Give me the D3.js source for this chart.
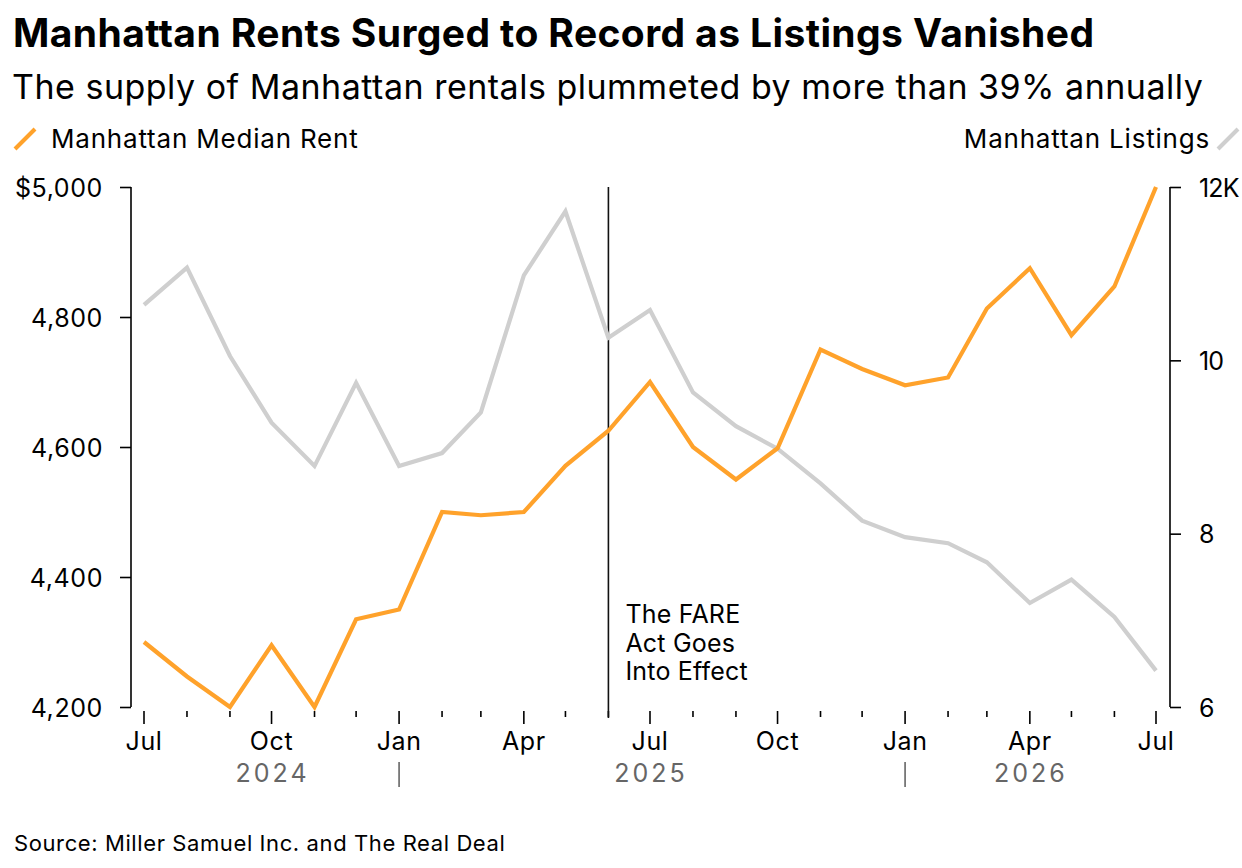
<!DOCTYPE html>
<html>
<head>
<meta charset="utf-8">
<script src="https://cdn.jsdelivr.net/npm/d3@7"></script>
<style>
  html, body { margin: 0; padding: 0; background: #fff; }
  svg text { font-family: Inter, "Liberation Sans", Arial, sans-serif; fill: #000; }
</style>
</head>
<body>
<svg id="chart" width="1242" height="868"></svg>
<script>
// monthly points, Jul 2024 .. Jul 2026
var months = ['2024-07','2024-08','2024-09','2024-10','2024-11','2024-12',
  '2025-01','2025-02','2025-03','2025-04','2025-05','2025-06',
  '2025-07','2025-08','2025-09','2025-10','2025-11','2025-12',
  '2026-01','2026-02','2026-03','2026-04','2026-05','2026-06','2026-07'];
var medianRent = [4300, 4247, 4200, 4295, 4200, 4335, 4350, 4500, 4495, 4500, 4571, 4625,
  4700, 4600, 4550, 4598, 4750, 4720, 4695, 4707, 4813, 4875, 4772, 4847, 5000];
var listings = [10640, 11070, 10050, 9280, 8780, 9740, 8780, 8930, 9400, 10980, 11720, 10260,
  10580, 9630, 9240, 8980, 8580, 8150, 7960, 7890, 7670, 7200, 7470, 7040, 6420];
var rentTicks = [4200, 4400, 4600, 4800, 5000];
var listingTicks = [6000, 8000, 10000, 12000];
var yearLabels = [['2024', '2024-10'], ['2025', '2025-07'], ['2026', '2026-04']];
var yearBreaks = ['2025-01', '2026-01'];
var eventMonth = '2025-06';
var eventLines = ['The FARE', 'Act Goes', 'Into Effect'];

(function (d3) {
  var parse = d3.timeParse('%Y-%m');
  var svg = d3.select('#chart');
  var orange = '#ffa22b', grey = '#cfcfcf';

  var x = d3.scaleTime()
    .domain([parse('2024-07'), parse('2026-07')])
    .range([144, 1156]);
  var yLeft = d3.scaleLinear().domain([4200, 5000]).range([707, 187]);
  var yRight = d3.scaleLinear().domain([6000, 12000]).range([707, 187]);

  // titles
  svg.append('text').attr('x', 13).attr('y', 47)
    .style('font-size', '39px').style('font-weight', 'bold')
    .style('letter-spacing', '0.4px')
    .text('Manhattan Rents Surged to Record as Listings Vanished');
  svg.append('text').attr('x', 12).attr('y', 99)
    .style('font-size', '34px').style('letter-spacing', '0.5px')
    .text('The supply of Manhattan rentals plummeted by more than 39% annually');

  // legend
  svg.append('line').attr('x1', 15).attr('y1', 149).attr('x2', 35).attr('y2', 129)
    .attr('stroke', orange).attr('stroke-width', 4);
  svg.append('text').attr('x', 51).attr('y', 148).style('font-size', '26px')
    .style('letter-spacing', '0.8px').text('Manhattan Median Rent');
  svg.append('text').attr('x', 1210).attr('y', 148).style('font-size', '26px')
    .style('letter-spacing', '0.8px')
    .attr('text-anchor', 'end').text('Manhattan Listings');
  svg.append('line').attr('x1', 1218).attr('y1', 149).attr('x2', 1238).attr('y2', 129)
    .attr('stroke', grey).attr('stroke-width', 4);

  // left axis
  var leftAxis = svg.append('g').attr('transform', 'translate(131,0)')
    .call(d3.axisLeft(yLeft).tickValues(rentTicks).tickSize(11).tickPadding(17)
      .tickFormat(function(d) { return d === 5000 ? '$5,000' : d3.format(',')(d); }));
  leftAxis.select('.domain').attr('d', 'M0,187V707');

  // right axis
  var rightAxis = svg.append('g').attr('transform', 'translate(1170,0)')
    .call(d3.axisRight(yRight).tickValues(listingTicks).tickSize(11).tickPadding(18)
      .tickFormat(function(d) { return d === 12000 ? '12K' : d / 1000; }));
  rightAxis.select('.domain').attr('d', 'M0,187V707');

  [leftAxis, rightAxis].forEach(function(a) {
    a.selectAll('path, line').attr('stroke', '#000').attr('stroke-width', 1.6);
    a.selectAll('text').style('font-size', '25px').attr('fill', '#000')
      .attr('font-family', null).attr('dy', '0.36em');
  });
  leftAxis.selectAll('text').style('letter-spacing', '0.6px');
  rightAxis.selectAll('text').style('letter-spacing', '-0.8px');

  // x axis: month ticks, quarter ticks longer
  var monthDates = months.map(parse);
  svg.append('g').selectAll('line').data(monthDates).enter().append('line')
    .attr('x1', function(d) { return x(d); }).attr('x2', function(d) { return x(d); })
    .attr('y1', 711)
    .attr('y2', function(d) { return d.getMonth() % 3 === 0 ? 724 : 717; })
    .attr('stroke', '#000').attr('stroke-width', 1.6);

  svg.append('g').selectAll('text')
    .data(monthDates.filter(function(d) { return d.getMonth() % 3 === 0; }))
    .enter().append('text')
    .attr('x', function(d) { return x(d); }).attr('y', 750)
    .attr('text-anchor', 'middle').style('font-size', '25px')
    .style('letter-spacing', '0.6px')
    .text(function(d) { return d3.timeFormat('%b')(d); });

  svg.append('g').selectAll('text').data(yearLabels).enter().append('text')
    .attr('x', function(d) { return x(parse(d[1])) + 1; }).attr('y', 782)
    .attr('text-anchor', 'middle').style('font-size', '25px')
    .style('letter-spacing', '3px').style('fill', '#666')
    .text(function(d) { return d[0]; });

  svg.append('g').selectAll('line').data(yearBreaks).enter().append('line')
    .attr('x1', function(d) { return x(parse(d)); }).attr('x2', function(d) { return x(parse(d)); })
    .attr('y1', 762).attr('y2', 787)
    .attr('stroke', '#666').attr('stroke-width', 1.6);

  // event marker
  var ex = x(parse(eventMonth));
  svg.append('line').attr('x1', ex).attr('x2', ex).attr('y1', 187).attr('y2', 718)
    .attr('stroke', '#111').attr('stroke-width', 1.6);
  svg.append('text').attr('x', ex + 17).attr('y', 623).style('font-size', '25px')
    .style('letter-spacing', '0.2px')
    .selectAll('tspan').data(eventLines).enter().append('tspan')
    .attr('x', ex + 17).attr('dy', function(d, i) { return i ? 28.5 : 0; })
    .text(function(d) { return d; });

  // series
  var rows = monthDates.map(function(d, i) {
    return { date: d, rent: medianRent[i], listings: listings[i] };
  });
  var listingLine = d3.line()
    .x(function(d) { return x(d.date); })
    .y(function(d) { return yRight(d.listings); });
  var rentLine = d3.line()
    .x(function(d) { return x(d.date); })
    .y(function(d) { return yLeft(d.rent); });

  svg.append('path').datum(rows).attr('d', listingLine)
    .attr('fill', 'none').attr('stroke', grey).attr('stroke-width', 4.2)
    .attr('stroke-linejoin', 'miter');
  svg.append('path').datum(rows).attr('d', rentLine)
    .attr('fill', 'none').attr('stroke', orange).attr('stroke-width', 4.2)
    .attr('stroke-linejoin', 'miter');

  // source
  svg.append('text').attr('x', 14).attr('y', 851).style('font-size', '22px')
    .style('letter-spacing', '0.6px')
    .text('Source: Miller Samuel Inc. and The Real Deal');
})(d3);
</script>
</body>
</html>
